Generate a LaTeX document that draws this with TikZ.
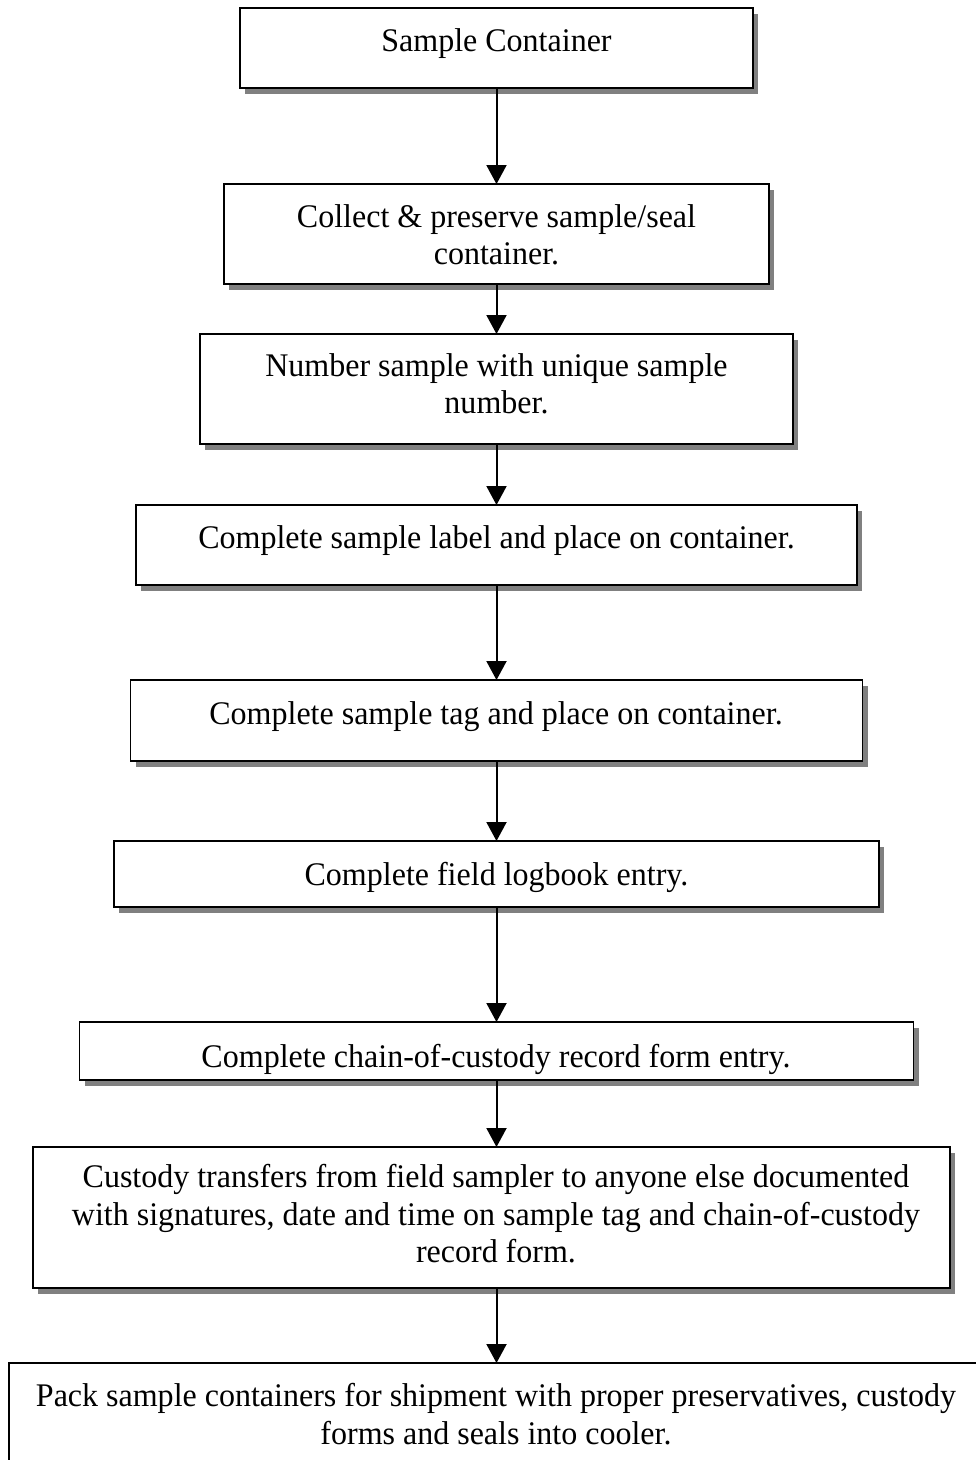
\documentclass[tikz,border=0pt]{standalone}
\usepackage{fontspec}
\setmainfont[FakeStretch=0.97]{Liberation Serif}
\usetikzlibrary{arrows.meta,shadows}
\definecolor{shadowgray}{RGB}{128,128,128}
\begin{document}
\begin{tikzpicture}[x=1pt,y=-1pt,
  stepbox/.style={draw=black, line width=1.8pt, fill=white, rectangle,
    inner sep=0pt, outer sep=0pt,
    drop shadow={shadow xshift=5pt, shadow yshift=-6pt, fill=shadowgray, opacity=1}},
  steptext/.style={align=center, inner sep=0pt,
    font=\fontsize{33}{37.5}\selectfont},
  flow/.style={line width=2pt, -{Triangle[width=20pt,length=19pt]}}]
\clip (0,0) rectangle (976,1460);
\useasboundingbox (0,0) rectangle (976,1460);

% boxes: centre, width, height
\node[stepbox, minimum width=513pt, minimum height=80pt]  (b1) at (496.5,48)    {};
\node[stepbox, minimum width=545pt, minimum height=100pt] (b2) at (496.5,234)   {};
\node[stepbox, minimum width=593pt, minimum height=110pt] (b3) at (496.5,389)   {};
\node[stepbox, minimum width=721pt, minimum height=80pt]  (b4) at (496.5,545)   {};
\node[stepbox, minimum width=732pt, minimum height=81pt]  (b5) at (496.5,720.5) {};
\node[stepbox, minimum width=765pt, minimum height=66pt]  (b6) at (496.5,874)   {};
\node[stepbox, minimum width=834pt, minimum height=58pt]  (b7) at (496.5,1051)  {};
\node[stepbox, minimum width=917pt, minimum height=141pt] (b8) at (491.5,1217.5){};
\node[stepbox, minimum width=981pt, minimum height=130pt] (b9) at (499.5,1428)  {};

% labels
\node[steptext] (t1) at (496.5,44)  {Sample Container};
\node[steptext] (t2) at (496.5,235) {Collect \& preserve sample/seal\\container.};
\node[steptext] (t3) at (496.5,384) {Number sample with unique sample\\number.};
\node[steptext] (t4) at (496.5,541) {Complete sample label and place on container.};
\node[steptext] (t5) at (496,717)   {Complete sample tag and place on container.};
\node[steptext] (t6) at (496.5,877) {Complete field logbook entry.};
\node[steptext] (t7) at (496,1059)  {Complete chain-of-custody record form entry.};
\node[steptext] (t8) at (496,1214)  {Custody transfers from field sampler to anyone else documented\\with signatures, date and time on sample tag and chain-of-custody\\record form.};
\node[steptext] (t9) at (496,1414)  {Pack sample containers for shipment with proper preservatives, custody\\forms and seals into cooler.};

% connectors
\draw[flow] (b1.south) -- (b1.south |- b2.north);
\draw[flow] (b2.south) -- (b2.south |- b3.north);
\draw[flow] (b3.south) -- (b3.south |- b4.north);
\draw[flow] (b4.south) -- (b4.south |- b5.north);
\draw[flow] (b5.south) -- (b5.south |- b6.north);
\draw[flow] (b6.south) -- (b6.south |- b7.north);
\draw[flow] (b7.south) -- (b7.south |- b8.north);
\draw[flow] (b8.south -| b7.south) -- (b7.south |- b9.north);
\end{tikzpicture}
\end{document}
